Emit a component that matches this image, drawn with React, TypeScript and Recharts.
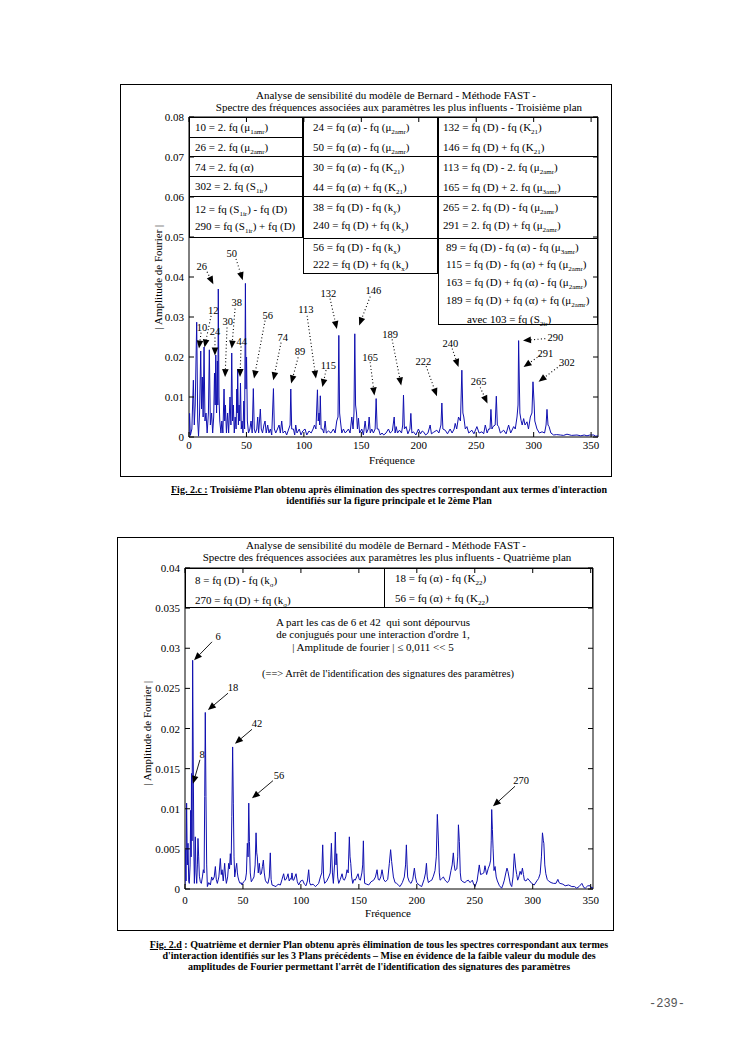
import React from "react";
import { LineChart, Line, XAxis, YAxis, ReferenceLine, ReferenceDot, ReferenceArea } from "recharts";

const SERIF = '"Liberation Serif", "Times New Roman", serif';
const BLUE = "#1010b0";

type Pt = [number, number];
type Note = { text: string; label: Pt; from: Pt; to: Pt };

// ---------- Fig. 2.c (troisième plan) ----------
const topXTicks = [0, 50, 100, 150, 200, 250, 300, 350];
const topYTicks = [0, 0.01, 0.02, 0.03, 0.04, 0.05, 0.06, 0.07, 0.08];

// spectrum: [fréquence, |amplitude|]
const topLow: Pt[] = [
  [0, 0.0008], [0.5, 0.0059], [1.2, 0.0004], [2.5, 0.002], [3.8, 0.0142], [4.6, 0.003], [5.4, 0.008],
  [6.7, 0.0287], [7.6, 0.004], [8.3, 0.0002], [9.2, 0.006], [10.2, 0.0215], [10.9, 0.007], [11.6, 0.015],
  [12.3, 0.005], [13.1, 0.0225], [13.9, 0.004], [14.8, 0.006], [15.8, 0.001], [16.9, 0.006], [17.7, 0.0218],
  [18.6, 0.003], [19.7, 0.006], [20.6, 0.001], [21.5, 0.005], [22.2, 0.016], [22.8, 0.008], [23.3, 0.0205],
  [24.0, 0.006], [24.7, 0.019], [25.1, 0.008], [25.5, 0.037], [26.1, 0.01], [26.8, 0.004], [27.8, 0.001],
  [28.6, 0.004], [29.5, 0.001], [30.5, 0.012], [31.1, 0.004], [31.7, 0.008], [32.6, 0.001], [33.6, 0.006],
  [34.5, 0.001], [35.7, 0.01], [36.5, 0.003], [37.2, 0.021], [37.9, 0.004], [38.6, 0.008], [39.4, 0.001],
  [40.2, 0.005], [41.0, 0.002], [41.6, 0.012], [42.0, 0.006], [42.4, 0.017], [43.0, 0.003], [43.6, 0.008],
  [44.2, 0.004], [44.8, 0.0135], [45.5, 0.002], [46.2, 0.004], [47.0, 0.001], [47.7, 0.009], [48.4, 0.002],
  [49.1, 0.0384], [49.6, 0.012], [50.1, 0.02], [50.8, 0.004], [51.8, 0.001], [53.0, 0.002], [54.0, 0.004],
  [55.0, 0.001], [56.0, 0.0121], [56.8, 0.002], [57.8, 0.001], [59.0, 0.002], [59.8, 0.005], [60.6, 0.001],
];
const topMid: Pt[] = [
  [62.1, 0.007], [62.9, 0.002], [64.0, 0.001], [65.2, 0.003], [66.2, 0.004], [67.2, 0.001], [68.5, 0.003],
  [69.6, 0.001], [70.8, 0.002], [72.0, 0.0005], [73.5, 0.0121], [74.3, 0.002], [75.5, 0.001], [77.0, 0.002],
  [78.4, 0.003], [79.5, 0.001], [80.7, 0.004], [81.8, 0.001], [83.6, 0.0015], [85.0, 0.0005], [86.8, 0.002],
  [88.0, 0.003], [88.6, 0.012], [89.4, 0.002], [90.9, 0.002], [92.0, 0.0005], [92.9, 0.003], [94.0, 0.001],
  [96.0, 0.002], [97.5, 0.0005], [99.0, 0.0015], [101.0, 0.002], [102.5, 0.0005], [104.5, 0.0015],
  [106.3, 0.001], [108.0, 0.002], [109.2, 0.003], [110.5, 0.002], [111.8, 0.0118], [112.5, 0.004],
  [113.2, 0.006], [113.7, 0.003], [114.3, 0.0103], [115.0, 0.002], [116.2, 0.002], [117.3, 0.001],
  [118.5, 0.004], [119.5, 0.001], [121.4, 0.0015], [123.5, 0.001], [125.7, 0.002], [127.2, 0.001],
  [128.6, 0.004], [129.7, 0.005], [130.4, 0.0254], [131.1, 0.006], [131.8, 0.004], [133.0, 0.001],
  [134.4, 0.002], [136.0, 0.001], [137.5, 0.0015], [138.8, 0.002], [140.2, 0.001], [141.7, 0.005],
  [142.8, 0.002], [143.6, 0.006], [144.3, 0.0258], [145.0, 0.008], [145.8, 0.006], [146.6, 0.002],
  [147.5, 0.0047], [148.5, 0.001], [150.4, 0.002], [151.8, 0.0005], [153.3, 0.004], [154.5, 0.001],
  [156.0, 0.002], [156.8, 0.005], [157.8, 0.001], [159.1, 0.002], [160.5, 0.001], [162.0, 0.002],
  [162.9, 0.0096], [163.8, 0.002], [165.0, 0.002], [166.5, 0.0005], [168.0, 0.001], [169.5, 0.0005],
  [171.5, 0.001], [173.6, 0.002], [175.1, 0.001],
];
const topHigh: Pt[] = [
  [177.0, 0.0015], [178.6, 0.005], [179.4, 0.001], [180.3, 0.0026], [181.5, 0.001], [183.2, 0.0017],
  [185.0, 0.001], [186.0, 0.003], [186.7, 0.0105], [187.5, 0.002], [189.0, 0.0026], [190.5, 0.0008],
  [192.3, 0.002], [193.1, 0.0059], [194.0, 0.001], [195.4, 0.0013], [197.5, 0.0005], [199.7, 0.002],
  [201.5, 0.0008], [203.0, 0.0015], [204.1, 0.0013], [206.0, 0.0005], [208.0, 0.001], [209.9, 0.003],
  [211.0, 0.0008], [213.0, 0.0012], [215.7, 0.0017], [217.5, 0.001], [219.3, 0.003], [220.1, 0.0085],
  [221.0, 0.002], [223.0, 0.0017], [225.0, 0.0008], [227.3, 0.002], [229.0, 0.001], [230.8, 0.002],
  [231.7, 0.0034], [233.0, 0.002], [234.6, 0.005], [236.3, 0.004], [237.5, 0.0167], [238.4, 0.006],
  [239.2, 0.005], [240.5, 0.002], [241.9, 0.0026], [243.5, 0.001], [246.2, 0.0017], [248.0, 0.0008],
  [250.6, 0.0026], [252.5, 0.001], [255.0, 0.0013], [256.5, 0.0008], [257.9, 0.003], [259.5, 0.001],
  [260.8, 0.002], [262.0, 0.002], [262.8, 0.0069], [263.7, 0.002], [264.6, 0.0026], [266.5, 0.003],
  [267.5, 0.0102], [268.4, 0.003], [269.5, 0.0026], [271.0, 0.001], [273.9, 0.0017], [276.0, 0.0008],
  [278.2, 0.003], [280.0, 0.001], [282.6, 0.0026], [284.0, 0.002], [285.5, 0.005], [286.4, 0.008],
  [286.9, 0.0241], [287.4, 0.016], [288.0, 0.006], [289.0, 0.0042], [290.0, 0.003], [291.3, 0.0046],
  [292.5, 0.003], [294.2, 0.0038], [295.5, 0.002], [297.1, 0.005], [298.5, 0.006], [299.4, 0.0138],
  [300.3, 0.009], [301.0, 0.004], [302.9, 0.002], [305.0, 0.001], [307.3, 0.0013], [309.5, 0.001],
  [310.8, 0.003], [311.6, 0.0069], [312.5, 0.003], [313.4, 0.0026], [315.0, 0.001], [317.4, 0.0005],
  [320.0, 0.0006], [323.2, 0.0005], [326.0, 0.0004], [329.0, 0.0007], [333.0, 0.0004], [337.7, 0.0005],
  [341.0, 0.0003], [344.0, 0.0005], [346.4, 0.0003], [349.0, 0.0005], [352.3, 0.0005], [354.0, 0.0002],
  [356.0, 0.0003],
];

const topNotes: Note[] = [
  { text: "26", label: [11.1, 0.0428], from: [15.7, 0.0413], to: [21.2, 0.0382] },
  { text: "50", label: [37.2, 0.0461], from: [40.9, 0.0445], to: [46.8, 0.0392] },
  { text: "10", label: [11.3, 0.0275], from: [10.5, 0.0261], to: [8.7, 0.0221] },
  { text: "12", label: [21.2, 0.0318], from: [19.2, 0.0303], to: [13.5, 0.0224] },
  { text: "24", label: [22.6, 0.0264], from: [22.6, 0.0249], to: [22.6, 0.0204] },
  { text: "30", label: [33.7, 0.0289], from: [33.1, 0.0274], to: [31.4, 0.015] },
  { text: "38", label: [41.6, 0.0337], from: [40.1, 0.0321], to: [37.2, 0.0221] },
  { text: "44", label: [45.9, 0.0241], from: [45.3, 0.0226], to: [44.4, 0.015] },
  { text: "56", label: [68.6, 0.0305], from: [66.2, 0.0291], to: [56.6, 0.0146] },
  { text: "74", label: [81.6, 0.0251], from: [80.1, 0.0236], to: [73.4, 0.0142] },
  { text: "89", label: [96.7, 0.0214], from: [95.0, 0.0199], to: [88.9, 0.0134] },
  { text: "113", label: [101.7, 0.032], from: [102.8, 0.0303], to: [110.5, 0.0146] },
  { text: "115", label: [121.3, 0.0181], from: [119.3, 0.0167], to: [116.1, 0.0125] },
  { text: "132", label: [121.3, 0.0361], from: [122.8, 0.0346], to: [128.7, 0.027] },
  { text: "146", label: [160.5, 0.0367], from: [157.7, 0.0351], to: [148.1, 0.0279] },
  { text: "165", label: [157.7, 0.0201], from: [157.7, 0.0187], to: [161.4, 0.0104] },
  { text: "189", label: [175.1, 0.0258], from: [176.8, 0.0244], to: [184.7, 0.0129] },
  { text: "222", label: [204.1, 0.019], from: [206.4, 0.0177], to: [215.8, 0.0102] },
  { text: "240", label: [227.4, 0.0235], from: [229.1, 0.0221], to: [234.6, 0.0175] },
  { text: "265", label: [252.0, 0.014], from: [253.5, 0.0124], to: [259.8, 0.0084] },
  { text: "290", label: [318.8, 0.025], from: [310.1, 0.0246], to: [290.7, 0.0241] },
  { text: "291", label: [310.1, 0.021], from: [305.7, 0.0204], to: [291.2, 0.0175] },
  { text: "302", label: [329.0, 0.0187], from: [323.2, 0.0179], to: [304.3, 0.0138] },
];

const topCol1 = [
  "10 = 2. fq (μ_{1amr})", "26 = 2. fq (μ_{2amr})", "74 = 2. fq (α)", "302 = 2. fq (S_{1ir})",
  "12 = fq (S_{1ir}) - fq (D)", "290 = fq (S_{1ir}) + fq (D)",
];
const topCol2 = [
  "24 = fq (α) - fq (μ_{2amr})", "50 = fq (α) - fq (μ_{2amr})", "30 = fq (α) - fq (K_{21})",
  "44 = fq (α) + fq (K_{21})", "38 = fq (D) - fq (k_{y})", "240 = fq (D) + fq (k_{y})",
  "56 = fq (D) - fq (k_{x})", "222 = fq (D) + fq (k_{x})",
];
const topCol3 = [
  "132 = fq (D) - fq (K_{21})", "146 = fq (D) + fq (K_{21})", "113 = fq (D) - 2. fq (μ_{2amr})",
  "165 = fq (D) + 2. fq (μ_{3amr})", "265 = 2. fq (D) - fq (μ_{2amr})", "291 = 2. fq (D) + fq (μ_{2amr})",
  "89 = fq (D) - fq (α) - fq (μ_{3amr})", "115 = fq (D) - fq (α) + fq (μ_{2amr})",
  "163 = fq (D) + fq (α) - fq (μ_{2amr})", "189 = fq (D) + fq (α) + fq (μ_{2amr})", "avec 103 = fq (S_{2ir})",
];

// ---------- Fig. 2.d (quatrième plan) ----------
const botXTicks = [0, 50, 100, 150, 200, 250, 300, 350];
const botYTicks = [0, 0.005, 0.01, 0.015, 0.02, 0.025, 0.03, 0.035, 0.04];

const botLow: Pt[] = [
  [0, 0.0005], [0.3, 0.0049], [0.9, 0.001], [1.4, 0.0107], [2.0, 0.003], [2.6, 0.0057], [3.2, 0.001],
  [3.7, 0.0007], [4.4, 0.003], [4.9, 0.0098], [5.3, 0.004], [5.6, 0.0144], [6.1, 0.006], [6.6, 0.0285],
  [7.2, 0.014], [7.7, 0.004], [8.1, 0.0007], [8.9, 0.0065], [9.5, 0.002], [10.1, 0.0007], [10.7, 0.003],
  [11.2, 0.0063], [11.8, 0.004], [12.4, 0.0016], [13.2, 0.0009], [14.1, 0.0007], [15.0, 0.0015],
  [15.8, 0.0024], [16.5, 0.002], [17.0, 0.0115], [17.5, 0.022], [18.1, 0.0115], [18.7, 0.003],
  [19.3, 0.0003], [20.5, 0.0008], [21.9, 0.0005], [23.0, 0.0015], [23.9, 0.0011], [25.2, 0.0015],
  [26.2, 0.0028], [27.0, 0.0012], [27.9, 0.0007], [29.2, 0.0015], [30.5, 0.0038], [31.3, 0.0018],
  [32.0, 0.0024], [33.0, 0.001], [34.2, 0.0032], [35.0, 0.0015], [35.7, 0.0007], [36.8, 0.0015],
  [37.7, 0.0032], [38.4, 0.0025], [39.1, 0.0044], [39.8, 0.003], [40.4, 0.009], [41.1, 0.0177],
  [41.7, 0.0107], [42.3, 0.004], [42.9, 0.0015], [43.8, 0.0025], [44.6, 0.0032], [45.2, 0.002],
  [45.7, 0.0015], [46.6, 0.001], [47.5, 0.0007], [48.4, 0.0008], [49.2, 0.0005], [50.5, 0.0009],
  [52.1, 0.0011], [53.0, 0.002], [53.8, 0.0057], [54.4, 0.004], [55.0, 0.0107], [55.6, 0.0059],
  [56.3, 0.002], [57.2, 0.0009], [58.4, 0.0012], [59.5, 0.0015], [60.5, 0.003], [61.3, 0.007],
  [61.9, 0.0045], [62.4, 0.004], [63.2, 0.002], [64.1, 0.0032], [65.0, 0.0018], [65.9, 0.0019],
  [66.8, 0.0028], [67.6, 0.0036], [68.4, 0.002], [69.3, 0.0011], [70.4, 0.0008], [71.6, 0.0007],
  [72.7, 0.0015], [73.6, 0.0045], [74.3, 0.0012], [75.1, 0.0005],
];
const botMid: Pt[] = [
  [76.8, 0.0004], [78.5, 0.0003], [80.3, 0.0006], [82.3, 0.0005], [83.7, 0.0012], [85.1, 0.0019],
  [86.1, 0.0011], [87.2, 0.0012], [88.0, 0.0015], [88.9, 0.0019], [89.9, 0.001], [90.9, 0.0013],
  [91.6, 0.0012], [92.3, 0.002], [93.1, 0.0011], [93.8, 0.0011], [94.8, 0.0015], [95.8, 0.0019],
  [96.9, 0.0009], [98.1, 0.0005], [99.8, 0.001], [101.5, 0.0011], [103.0, 0.0006], [104.4, 0.0004],
  [105.6, 0.001], [106.7, 0.0024], [107.5, 0.0008], [108.4, 0.0005], [110.5, 0.0006], [112.5, 0.0003],
  [114.0, 0.0005], [115.3, 0.0007], [116.8, 0.0015], [118.0, 0.002], [118.8, 0.0055], [119.6, 0.0015],
  [120.5, 0.0007], [122.3, 0.001], [124.0, 0.0015], [125.3, 0.002], [126.3, 0.0057], [127.2, 0.002],
  [128.0, 0.0007], [129.0, 0.003], [129.7, 0.0071], [130.3, 0.003], [130.9, 0.0044], [131.7, 0.0015],
  [132.6, 0.0007], [134.0, 0.0012], [135.5, 0.0019], [136.5, 0.0012], [137.5, 0.0011], [138.7, 0.0015],
  [139.8, 0.0024], [140.8, 0.002], [141.8, 0.0065], [142.4, 0.004], [143.0, 0.0032], [143.8, 0.0015],
  [144.7, 0.0007], [145.8, 0.0012], [146.9, 0.0011], [148.1, 0.0015], [149.3, 0.0019], [150.3, 0.0012],
  [151.3, 0.0011], [152.6, 0.002], [153.3, 0.003], [153.9, 0.006], [154.5, 0.002], [155.0, 0.0007],
  [156.8, 0.0006], [158.5, 0.0005], [160.5, 0.0009], [162.8, 0.0011], [164.3, 0.0015], [165.7, 0.0024],
  [166.7, 0.0012], [167.7, 0.0011], [168.9, 0.0015], [170.0, 0.0024], [171.4, 0.0012], [172.9, 0.0009],
  [174.9, 0.0012], [176.3, 0.0032], [177.4, 0.0049], [178.3, 0.0034], [179.8, 0.0015], [181.2, 0.0008],
  [182.6, 0.0007], [184.0, 0.0005], [185.5, 0.0003],
];
const botHigh: Pt[] = [
  [187.5, 0.0008], [189.2, 0.0015], [190.3, 0.003], [191.0, 0.0055], [191.6, 0.003], [192.1, 0.0015],
  [193.5, 0.0009], [195.0, 0.0007], [196.5, 0.0012], [197.9, 0.0026], [198.8, 0.0015], [199.9, 0.0008],
  [202.0, 0.0005], [204.2, 0.0003], [206.3, 0.0012], [207.5, 0.002], [208.3, 0.0032], [209.0, 0.0015],
  [210.0, 0.0008], [211.5, 0.001], [212.9, 0.0011], [214.3, 0.0016], [215.7, 0.0023], [216.8, 0.004],
  [217.7, 0.0093], [218.6, 0.0061], [219.4, 0.002], [220.1, 0.0011], [221.5, 0.0013], [222.9, 0.0015],
  [224.0, 0.0012], [224.9, 0.001], [226.5, 0.0008], [227.9, 0.0011], [229.5, 0.0023], [230.5, 0.003],
  [231.5, 0.0045], [232.3, 0.003], [233.0, 0.0023], [234.5, 0.0025], [235.3, 0.004], [235.9, 0.008],
  [236.7, 0.0059], [237.5, 0.002], [238.2, 0.0011], [239.8, 0.0009], [241.5, 0.0008], [243.0, 0.001],
  [244.4, 0.0011], [246.0, 0.0008], [247.9, 0.0011], [249.0, 0.0006], [250.2, 0.0003], [252.0, 0.001],
  [253.9, 0.003], [255.0, 0.0018], [256.5, 0.0019], [257.8, 0.002], [258.8, 0.0029], [260.2, 0.0018],
  [261.7, 0.0026], [262.8, 0.003], [263.7, 0.0036], [264.2, 0.006], [264.6, 0.0099], [265.2, 0.0074],
  [265.8, 0.005], [266.6, 0.0023], [267.5, 0.0028], [268.5, 0.0015], [269.5, 0.001], [271.3, 0.0004],
  [273.2, 0.0001], [274.5, 0.0006], [275.5, 0.0011], [276.8, 0.002], [277.8, 0.0026], [278.6, 0.0022],
  [279.5, 0.0015], [280.7, 0.0006], [281.9, 0.0003], [283.0, 0.0015], [284.1, 0.0044], [285.3, 0.0026],
  [286.2, 0.0018], [287.0, 0.0011], [288.0, 0.0015], [289.1, 0.0022], [290.1, 0.0018], [291.1, 0.0026],
  [292.0, 0.0018], [292.8, 0.0011], [294.2, 0.001], [295.7, 0.0013], [297.5, 0.001], [299.1, 0.0007],
  [301.3, 0.0005], [303.5, 0.001], [305.0, 0.0013], [306.4, 0.0019], [307.5, 0.004], [308.4, 0.007],
  [309.2, 0.006], [309.6, 0.0057], [310.4, 0.003], [311.3, 0.0019], [312.5, 0.0012], [313.6, 0.001],
  [315.8, 0.0008], [317.9, 0.0007], [320.0, 0.0007], [321.7, 0.0012], [322.7, 0.0008], [323.6, 0.0007],
  [326.0, 0.0006], [328.0, 0.0004], [331.0, 0.0005], [333.7, 0.0003], [336.0, 0.0003], [338.0, 0.0001],
  [340.0, 0.0003], [342.4, 0.0007], [344.0, 0.0002], [345.3, 0.0001], [347.5, 0.0004], [349.6, 0.0004],
  [351.0, 0.0001], [352.0, 0.0002],
];

const botNotes: Note[] = [
  { text: "6", label: [28.5, 0.0315], from: [23.3, 0.0308], to: [7.8, 0.0285] },
  { text: "18", label: [41.4, 0.0252], from: [37.1, 0.0244], to: [19.8, 0.0223] },
  { text: "42", label: [62.1, 0.0207], from: [57.8, 0.0199], to: [43.1, 0.0181] },
  { text: "8", label: [14.7, 0.0168], from: [12.9, 0.0161], to: [6.9, 0.0131] },
  { text: "56", label: [81.1, 0.0142], from: [75.9, 0.0135], to: [57.8, 0.0113] },
  { text: "270", label: [289.9, 0.0136], from: [284.7, 0.0128], to: [265.7, 0.0103] },
];

const botLegend = [
  "8 = fq (D) - fq (k_{σ})", "270 = fq (D) + fq (k_{σ})",
  "18 = fq (α) - fq (K_{22})", "56 = fq (α) + fq (K_{22})",
];
const botRemark = [
  "A part les cas de 6 et 42  qui sont dépourvus",
  "de conjugués pour une interaction d'ordre 1,",
  "| Amplitude de fourier | ≤ 0,011 << 5",
];

// ---------- helpers ----------
function Rich({ s }: { s: string }) {
  const parts = s.split(/_\{([^}]*)\}/);
  return (
    <>
      {parts.map((p, i) =>
        i % 2 ? (
          <sub key={i} style={{ fontSize: 7, verticalAlign: "-3px", lineHeight: 0 }}>{p}</sub>
        ) : (
          <span key={i}>{p}</span>
        )
      )}
    </>
  );
}

function Txt({ x, y, s, size = 11, center = false }: { x: number; y: number; s: string; size?: number; center?: boolean }) {
  return (
    <div
      style={{
        position: "absolute",
        left: x,
        top: y - 7,
        lineHeight: "14px",
        fontSize: size,
        whiteSpace: "pre",
        transform: center ? "translateX(-50%)" : undefined,
      }}
    >
      <Rich s={s} />
    </div>
  );
}

function Box({ l, t, r, b }: { l: number; t: number; r: number; b: number }) {
  return (
    <div
      style={{
        position: "absolute", left: l, top: t, width: r - l, height: b - t,
        border: "1px solid #000", boxSizing: "border-box",
      }}
    />
  );
}

function HLine({ l, r, y }: { l: number; r: number; y: number }) {
  return <div style={{ position: "absolute", left: l, top: y, width: r - l, height: 1, background: "#000" }} />;
}

const arrowShape = (dotted: boolean) => (p: any) => {
  const { x1, y1, x2, y2 } = p;
  const dx = x2 - x1;
  const dy = y2 - y1;
  const len = Math.hypot(dx, dy) || 1;
  const ux = dx / len;
  const uy = dy / len;
  const L = 8;
  const W = 3.3;
  const bx = x2 - ux * L;
  const by = y2 - uy * L;
  return (
    <g>
      <line x1={x1} y1={y1} x2={bx} y2={by} stroke="#000" strokeWidth={dotted ? 1.1 : 0.9}
        strokeDasharray={dotted ? "1 2.4" : undefined} />
      <polygon points={`${x2},${y2} ${bx - uy * W},${by + ux * W} ${bx + uy * W},${by - ux * W}`} fill="#000" />
    </g>
  );
};

interface SpectrumProps {
  data: { f: number; a: number }[];
  xMax: number;
  yMax: number;
  xTicks: number[];
  yTicks: number[];
  notes: Note[];
  dotted: boolean;
  left: number;
  top: number;
  width: number;
  height: number;
  mTop: number;
  mRight: number;
  mBottom: number;
  yAxisW: number;
  xAxisH: number;
  xLabelDy: number;
}

function Spectrum(p: SpectrumProps) {
  const plotLeft = p.yAxisW;
  const plotTop = p.mTop;
  const plotRight = p.width - p.mRight;
  const plotBottom = p.height - p.mBottom - p.xAxisH;

  const XTick = (t: any) => (
    <g>
      <line x1={t.x} x2={t.x} y1={plotBottom} y2={plotBottom - 5} stroke="#000" />
      <line x1={t.x} x2={t.x} y1={plotTop} y2={plotTop + 5} stroke="#000" />
      <text x={t.x} y={plotBottom + p.xLabelDy} textAnchor="middle" fontSize={11} fontFamily={SERIF} fill="#000">
        {t.payload.value}
      </text>
    </g>
  );
  const YTick = (t: any) => (
    <g>
      <line x1={plotLeft} x2={plotLeft + 5} y1={t.y} y2={t.y} stroke="#000" />
      <line x1={plotRight - 5} x2={plotRight} y1={t.y} y2={t.y} stroke="#000" />
      <text x={plotLeft - 5} y={t.y + 4} textAnchor="end" fontSize={11} fontFamily={SERIF} fill="#000">
        {String(t.payload.value)}
      </text>
    </g>
  );

  return (
    <div style={{ position: "absolute", left: p.left, top: p.top }}>
      <LineChart
        width={p.width}
        height={p.height}
        data={p.data}
        margin={{ top: p.mTop, right: p.mRight, bottom: p.mBottom, left: 0 }}
      >
        <XAxis
          dataKey="f"
          type="number"
          domain={[0, p.xMax]}
          ticks={p.xTicks}
          interval={0}
          allowDataOverflow
          height={p.xAxisH}
          tickLine={false}
          axisLine={false}
          tick={XTick}
        />
        <YAxis
          type="number"
          domain={[0, p.yMax]}
          ticks={p.yTicks}
          interval={0}
          allowDataOverflow
          width={p.yAxisW}
          tickLine={false}
          axisLine={false}
          tick={YTick}
        />
        <ReferenceArea x1={0} x2={p.xMax} y1={0} y2={p.yMax} fill="none" fillOpacity={0} stroke="#000" strokeWidth={1} />
        <Line
          type="linear"
          dataKey="a"
          stroke={BLUE}
          strokeWidth={1}
          dot={false}
          activeDot={false}
          isAnimationActive={false}
        />
        {p.notes.map((n) => (
          <ReferenceLine
            key={"l" + n.text}
            segment={[{ x: n.from[0], y: n.from[1] }, { x: n.to[0], y: n.to[1] }]}
            shape={arrowShape(p.dotted)}
          />
        ))}
        {p.notes.map((n) => (
          <ReferenceDot
            key={"d" + n.text}
            x={n.label[0]}
            y={n.label[1]}
            r={0}
            shape={(d: any) => (
              <text x={d.cx} y={d.cy + 4} textAnchor="middle" fontSize={10.5} fontFamily={SERIF} fill="#000">
                {n.text}
              </text>
            )}
          />
        ))}
      </LineChart>
    </div>
  );
}

const topData = [...topLow, ...topMid, ...topHigh].map(([f, a]) => ({ f, a }));
const botData = [...botLow, ...botMid, ...botHigh].map(([f, a]) => ({ f, a }));

export default function App() {
  return (
    <div
      style={{
        position: "absolute", left: 0, top: 0, width: 744, height: 1053, background: "#fff",
        fontFamily: SERIF, color: "#000", overflow: "hidden",
      }}
    >
      {/* ---------- Figure 2.c ---------- */}
      <Box l={120} t={84} r={612} b={477} />
      <Txt x={396} y={95} s="Analyse de sensibilité du modèle de Bernard - Méthode FAST -" center />
      <Txt x={399} y={106.5} s="Spectre des fréquences associées aux paramètres les plus influents - Troisième plan" center />
      <Spectrum
        data={topData}
        xMax={356}
        yMax={0.08}
        xTicks={topXTicks}
        yTicks={topYTicks}
        notes={topNotes}
        dotted
        left={120}
        top={100}
        width={492}
        height={370}
        mTop={17}
        mRight={14}
        mBottom={13}
        yAxisW={69}
        xAxisH={20}
        xLabelDy={12}
      />
      <div
        style={{
          position: "absolute", left: 158, top: 277, fontSize: 11, whiteSpace: "nowrap",
          transform: "translate(-50%, -50%) rotate(-90deg)",
        }}
      >
        | Amplitude de Fourier |
      </div>
      <Txt x={392} y={460} s="Fréquence" center />

      <Box l={189} t={117} r={302.7} b={238} />
      <Box l={302.7} t={117} r={438.3} b={274.3} />
      <Box l={438.3} t={117} r={598} b={325.3} />
      {[137, 156.3, 176.3, 196.3].map((y) => <HLine key={"a" + y} l={189} r={302.7} y={y} />)}
      {[156.3, 196.3, 238].map((y) => <HLine key={"b" + y} l={302.7} r={598} y={y} />)}
      {topCol1.map((s, i) => <Txt key={s} x={195} y={[127, 147, 166.5, 186, 208.7, 226.3][i]} s={s} />)}
      {topCol2.map((s, i) => <Txt key={s} x={313} y={[127, 147, 167, 187, 207, 225.3, 247, 263.7][i]} s={s} />)}
      {topCol3.map((s, i) => (
        <Txt
          key={s}
          x={i < 6 ? 443 : i < 10 ? 446 : 467}
          y={[127, 147, 167, 187, 207, 225.3, 247, 263.7, 282, 300.3, 318.7][i]}
          s={s}
        />
      ))}

      <div style={{ position: "absolute", left: 389, top: 483.5, transform: "translateX(-50%)", fontSize: 10, fontWeight: "bold", textAlign: "center", lineHeight: "11.7px", whiteSpace: "nowrap" }}>
        <span style={{ textDecoration: "underline" }}>Fig. 2.c :</span> Troisième Plan obtenu après élimination des spectres correspondant aux termes d'interaction
        <br />
        identifiés sur la figure principale et le 2ème Plan
      </div>

      {/* ---------- Figure 2.d ---------- */}
      <Box l={117} t={537} r={614} b={931} />
      <Txt x={386} y={545} s="Analyse de sensibilité du modèle de Bernard - Méthode FAST -" center />
      <Txt x={387} y={556.5} s="Spectre des fréquences associées aux paramètres les plus influents - Quatrième plan" center />
      <Spectrum
        data={botData}
        xMax={352}
        yMax={0.04}
        xTicks={botXTicks}
        yTicks={botYTicks}
        notes={botNotes}
        dotted={false}
        left={117}
        top={555}
        width={496}
        height={350}
        mTop={13}
        mRight={20}
        mBottom={0}
        yAxisW={68}
        xAxisH={16}
        xLabelDy={15}
      />
      <div
        style={{
          position: "absolute", left: 147, top: 733, fontSize: 11, whiteSpace: "nowrap",
          transform: "translate(-50%, -50%) rotate(-90deg)",
        }}
      >
        | Amplitude de Fourier |
      </div>
      <Txt x={388} y={913} s="Fréquence" center />

      <Box l={185} t={568} r={593} b={607.5} />
      <div style={{ position: "absolute", left: 384, top: 568, width: 1, height: 39.5, background: "#000" }} />
      <Txt x={195} y={580} s={botLegend[0]} />
      <Txt x={195} y={600} s={botLegend[1]} />
      <Txt x={395} y={578.3} s={botLegend[2]} />
      <Txt x={395} y={598.3} s={botLegend[3]} />
      {botRemark.map((s, i) => <Txt key={s} x={373} y={[621.7, 634.3, 646.7][i]} s={s} size={11} center />)}
      <Txt x={388} y={674.3} s="(==> Arrêt de l'identification des signatures des paramètres)" size={10.5} center />

      <div style={{ position: "absolute", left: 379, top: 939, transform: "translateX(-50%)", fontSize: 10, fontWeight: "bold", textAlign: "center", lineHeight: "11.2px", whiteSpace: "nowrap" }}>
        <span style={{ textDecoration: "underline" }}>Fig. 2.d</span> : Quatrième et dernier Plan obtenu après élimination de tous les spectres correspondant aux termes
        <br />
        d'interaction identifiés sur les 3 Plans précédents – Mise en évidence de la faible valeur du module des
        <br />
        amplitudes de Fourier permettant l'arrêt de l'identification des signatures des paramètres
      </div>

      <div style={{ position: "absolute", left: 649, top: 997, fontFamily: '"Liberation Mono", monospace', fontSize: 12, color: "#555" }}>
        -239-
      </div>
    </div>
  );
}
